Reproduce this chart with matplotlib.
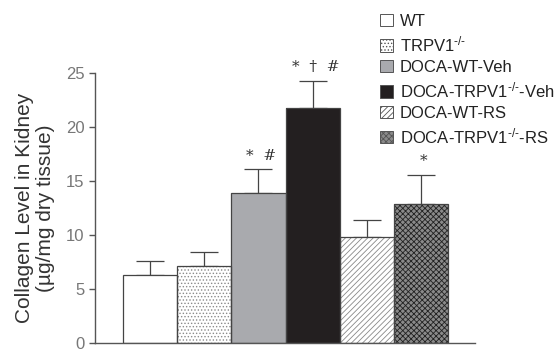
import matplotlib.pyplot as plt
from matplotlib.patches import Patch

plt.rcParams['font.family'] = ['Liberation Sans', 'DejaVu Sans']
plt.rcParams['mathtext.fontset'] = 'custom'
plt.rcParams['mathtext.rm'] = 'Liberation Sans'
plt.rcParams['mathtext.it'] = 'Liberation Sans'
plt.rcParams['hatch.linewidth'] = 0.6

groups = ['WT', r'TRPV1$^{\text{-/-}}$', 'DOCA-WT-Veh', r'DOCA-TRPV1$^{\text{-/-}}$-Veh',
          'DOCA-WT-RS', r'DOCA-TRPV1$^{\text{-/-}}$-RS']
means = [6.3, 7.1, 13.9, 21.8, 9.8, 12.9]
errors = [1.3, 1.3, 2.2, 2.5, 1.6, 2.7]
marks = ['', '', '*  #', '*  †  #', '', '*']

face_colors = ['white', 'white', '#a9aaae', '#231f20', 'white', '#8a8a8a']
hatches = [None, '.....', None, None, '//////', 'xxxxxx']
hatch_colors = ['#444444', '#8a8a8a', '#444444', '#444444', '#888888', '#222222']

fig = plt.figure(figsize=(5.55, 3.51), dpi=100)
ax = fig.add_axes([95 / 555, 1 - 343 / 351, 380 / 555, 270 / 351])

x = list(range(len(groups)))
handles = []
for i in x:
    ax.bar(i, means[i], width=1.0, color=face_colors[i], edgecolor=hatch_colors[i],
           hatch=hatches[i], linewidth=0.0, zorder=2)
    ax.bar(i, means[i], width=1.0, fill=False, edgecolor='#444444',
           linewidth=0.9, zorder=3)
    ax.errorbar(i, means[i], yerr=[[0], [errors[i]]], fmt='none',
                ecolor='#444444', elinewidth=0.9, capsize=10, capthick=0.9,
                zorder=1)
    if marks[i]:
        ax.text(i + 0.05, means[i] + errors[i] + 0.85, marks[i], ha='center',
                va='baseline', fontsize=11, color='#333333',
                family=['DejaVu Serif'], clip_on=False)
    handles.append(Patch(facecolor=face_colors[i], edgecolor='#555555',
                         hatch=hatches[i], linewidth=0.7, label=groups[i]))

ax.set_xlim(-1.02, 6.0)
ax.set_ylim(0, 25)
ax.set_yticks([0, 5, 10, 15, 20, 25])
ax.set_xticks([])
for s in ['top', 'right']:
    ax.spines[s].set_visible(False)
for s in ['left', 'bottom']:
    ax.spines[s].set_color('#555555')
    ax.spines[s].set_linewidth(1.0)
ax.tick_params(axis='y', colors='#555555', labelcolor='#777777', labelsize=12,
               length=4, width=1.0)

ax.set_ylabel('Collagen Level in Kidney\n(µg/mg dry tissue)', fontsize=15,
              color='#333333', labelpad=8, linespacing=1.1)

leg = fig.legend(handles=handles, loc='upper left',
                 bbox_to_anchor=(380 / 555, 1 - 14 / 351),
                 frameon=False, fontsize=12, handlelength=0.75, handleheight=0.75,
                 handletextpad=0.45, labelspacing=0.33, borderaxespad=0,
                 borderpad=0)
for t in leg.get_texts():
    t.set_color('#222222')

fig.savefig('out.png', dpi=100)
